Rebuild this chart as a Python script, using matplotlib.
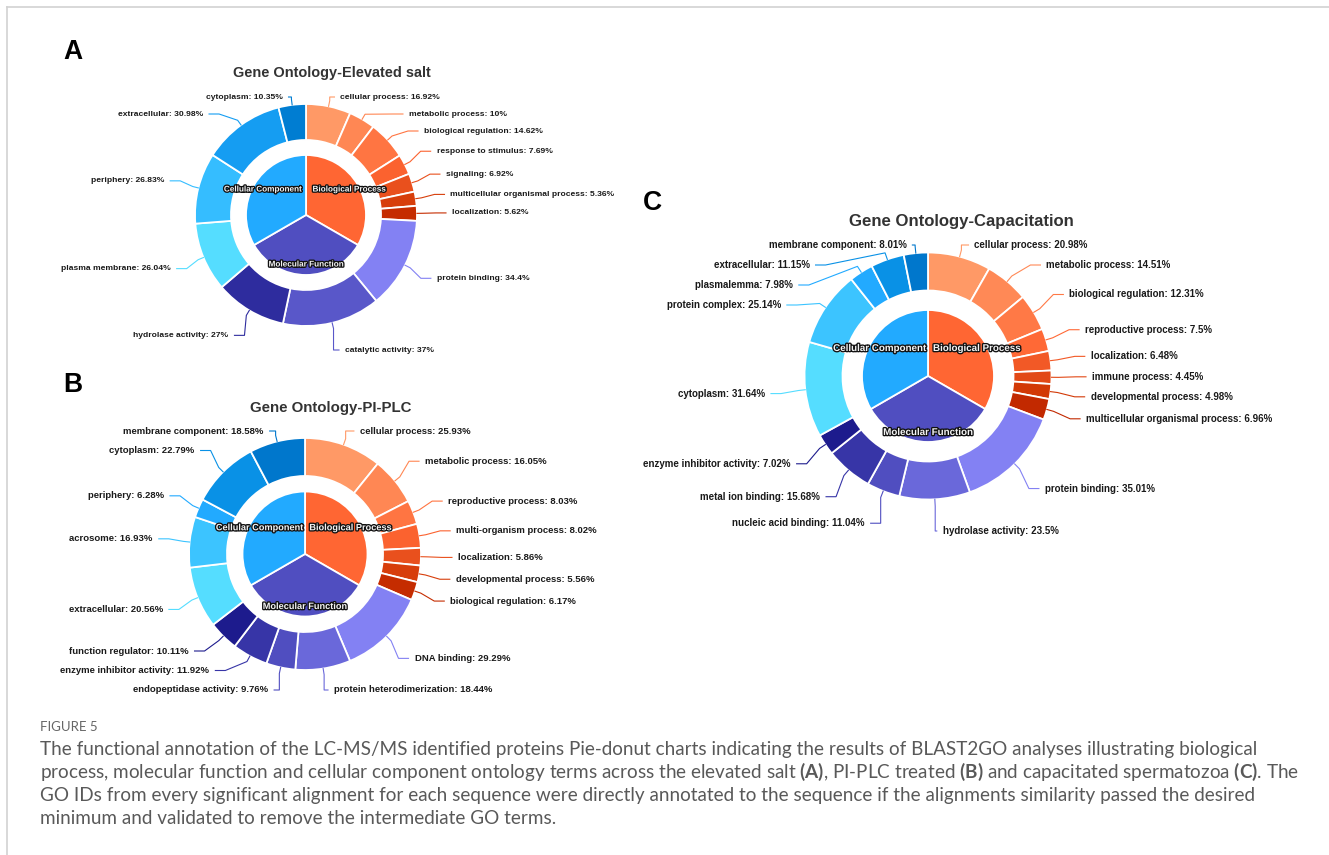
import numpy as np
import matplotlib
matplotlib.use("Agg")
import matplotlib.pyplot as plt
from matplotlib.path import Path
from matplotlib.patches import PathPatch
import matplotlib.patheffects as pe

W, H = 1329, 855
PX = 0.72  # points per pixel at 100 dpi

plt.rcParams["font.family"] = ["Liberation Sans", "DejaVu Sans"]
plt.rcParams["mathtext.fontset"] = "custom"
plt.rcParams["mathtext.bf"] = "Lato:bold"
plt.rcParams["mathtext.rm"] = "Lato"

# ---------------------------------------------------------------- data
group_names = ["Biological Process", "Molecular Function", "Cellular Component"]
group_shares = [100, 100, 100]
group_colors = ["#FF6633", "#504EC0", "#22AAFF"]

# (A) elevated salt
a_bp_terms = ["cellular process", "metabolic process", "biological regulation",
              "response to stimulus", "signaling",
              "multicellular organismal process", "localization"]
a_bp_values = [16.92, 10, 14.62, 7.69, 6.92, 5.36, 5.62]
a_mf_terms = ["protein binding", "catalytic activity", "hydrolase activity"]
a_mf_values = [34.4, 37, 27]
a_cc_terms = ["plasma membrane", "periphery", "extracellular", "cytoplasm"]
a_cc_values = [26.04, 26.83, 30.98, 10.35]

# (B) PI-PLC treated
b_bp_terms = ["cellular process", "metabolic process", "reproductive process",
              "multi-organism process", "localization",
              "developmental process", "biological regulation"]
b_bp_values = [25.93, 16.05, 8.03, 8.02, 5.86, 5.56, 6.17]
b_mf_terms = ["DNA binding", "protein heterodimerization",
              "endopeptidase activity", "enzyme inhibitor activity",
              "function regulator"]
b_mf_values = [29.29, 18.44, 9.76, 11.92, 10.11]
b_cc_terms = ["extracellular", "acrosome", "periphery", "cytoplasm",
              "membrane component"]
b_cc_values = [20.56, 16.93, 6.28, 22.79, 18.58]

# (C) capacitated
c_bp_terms = ["cellular process", "metabolic process", "biological regulation",
              "reproductive process", "localization", "immune process",
              "developmental process", "multicellular organismal process"]
c_bp_values = [20.98, 14.51, 12.31, 7.5, 6.48, 4.45, 4.98, 6.96]
c_mf_terms = ["protein binding", "hydrolase activity", "nucleic acid binding",
              "metal ion binding", "enzyme inhibitor activity"]
c_mf_values = [35.01, 23.5, 11.04, 15.68, 7.02]
c_cc_terms = ["cytoplasm", "protein complex", "plasmalemma", "extracellular",
              "membrane component"]
c_cc_values = [31.64, 25.14, 7.98, 11.15, 8.01]

panel_titles = ["Gene Ontology-Elevated salt", "Gene Ontology-PI-PLC",
                "Gene Ontology-Capacitation"]
panel_letters = ["A", "B", "C"]

caption_head = "FIGURE 5"
caption_lines = [
    "The functional annotation of the LC-MS/MS identified proteins Pie-donut charts "
    "indicating the results of BLAST2GO analyses illustrating biological",
    r"process, molecular function and cellular component ontology terms across the "
    r"elevated salt $\mathbf{(A)}$, PI-PLC treated $\mathbf{(B)}$ and capacitated "
    r"spermatozoa $\mathbf{(C)}$. The",
    "GO IDs from every significant alignment for each sequence were directly "
    "annotated to the sequence if the alignments similarity passed the desired",
    "minimum and validated to remove the intermediate GO terms.",
]

# ---------------------------------------------------------------- layout (px, y down)
layouts = [
    dict(center=(306, 215), R=111, ring=36, pie=60, lr=140, gap=6, step=17,
         top=97, bottom=350, fs=8.5, ifs=8.2, title=(332, 73, 14.5),
         letter=(63, 59)),
    dict(center=(305, 554), R=116, ring=38, pie=62.5, lr=147, gap=6, step=19.5,
         top=431, bottom=690, fs=9.5, ifs=9.2, title=(331, 408, 15.0),
         letter=(63, 392)),
    dict(center=(928, 376), R=123.5, ring=38, pie=66, lr=158, gap=6, step=20,
         top=245, bottom=531, fs=9.8, ifs=9.8, title=(961, 221, 16.8),
         letter=(643, 210)),
]


def shade(hex_color, amount):
    rgb = [int(hex_color[i:i + 2], 16) for i in (1, 3, 5)]
    return tuple(min(max(c + 255 * amount, 0), 255) / 255 for c in rgb)


def group_shades(base, n):
    return [shade(base, 0.2 - 0.5 * j / n) for j in range(n)]


def distribute(targets, h, lo, hi):
    order = np.argsort(targets)
    t = [targets[i] for i in order]
    clusters = []
    for i, ti in enumerate(t):
        clusters.append([i, 1, min(max(ti, lo), hi)])
        while len(clusters) > 1:
            a, b = clusters[-2], clusters[-1]
            if a[2] + a[1] * h > b[2] + 1e-9:
                first, n = a[0], a[1] + b[1]
                start = np.mean([t[first + k] - k * h for k in range(n)])
                start = min(max(start, lo), hi - (n - 1) * h)
                clusters[-2:] = [[first, n, start]]
            else:
                break
    ys = [0.0] * len(t)
    for first, n, start in clusters:
        for k in range(n):
            ys[first + k] = start + k * h
    out = [0.0] * len(t)
    for rank, idx in enumerate(order):
        out[idx] = ys[rank]
    return out


def fmt(v):
    return f"{v:g}"


fig = plt.figure(figsize=(W / 100, H / 100), dpi=100)
ax = fig.add_axes([0, 0, 1, 1])


def draw_panel(lay, groups, title, letter):
    cx, cy = lay["center"]
    Cy = H - cy
    terms, values, colors = [], [], []
    for (t, v), base in zip(groups, group_colors):
        terms += t
        values += v
        colors += group_shades(base, len(v))

    ax.pie(values, radius=lay["R"], center=(cx, Cy), startangle=90,
           counterclock=False, colors=colors, frame=True,
           wedgeprops=dict(width=lay["ring"], edgecolor="white", linewidth=1.3))
    ax.pie(group_shares, radius=lay["pie"], center=(cx, Cy), startangle=90,
           counterclock=False, colors=group_colors, frame=True,
           wedgeprops=dict(edgecolor="white", linewidth=1.3))

    # inner category labels
    rl = lay["pie"] - 10
    cum = np.cumsum([0] + group_shares)
    for k, name in enumerate(group_names):
        phi = np.deg2rad(360 * (cum[k] + group_shares[k] / 2) / cum[-1])
        ax.text(cx + rl * np.sin(phi), Cy + rl * np.cos(phi), name,
                ha="center", va="center", fontsize=lay["ifs"] * PX,
                fontweight="bold", color="#f4f4f4",
                path_effects=[pe.withStroke(linewidth=1.9, foreground="#111111")])

    # outer labels with connectors
    total = sum(values)
    cumv = np.cumsum([0] + values)
    mids = [np.deg2rad(360 * (cumv[i] + values[i] / 2) / total)
            for i in range(len(values))]
    R, lr = lay["R"], lay["lr"]
    off = (lr - R) / 5
    natural = [cy - lr * np.cos(p) for p in mids]
    right = [np.sin(p) >= 0 for p in mids]
    final = [0.0] * len(values)
    for side in (True, False):
        idx = [i for i in range(len(values)) if right[i] == side]
        ys = distribute([natural[i] for i in idx], lay["step"],
                        lay["top"], lay["bottom"])
        for i, y in zip(idx, ys):
            final[i] = y

    for i, phi in enumerate(mids):
        y = final[i]
        at_edge = abs(y - lay["top"]) < 0.5 or abs(y - lay["bottom"]) < 0.5
        yy = natural[i] if at_edge else y
        sgn = 1 if right[i] else -1
        xc = cx + sgn * np.sqrt(max(lr ** 2 - (yy - cy) ** 2, 0))
        tx, ty = cx + R * np.sin(phi), cy - R * np.cos(phi)
        bx, by = cx + (R + off) * np.sin(phi), cy - (R + off) * np.cos(phi)
        crook = xc - sgn * min(10, max(sgn * (xc - bx), 0))
        verts = [(xc, y), (crook, y), (bx, by), (tx, ty)]
        verts = [(vx, H - vy) for vx, vy in verts]
        ax.plot([v[0] for v in verts], [v[1] for v in verts], color=colors[i],
                linewidth=0.8, solid_joinstyle="round")
        ax.text(xc + sgn * lay["gap"], H - y, f"{terms[i]}: {fmt(values[i])}%",
                ha="left" if right[i] else "right", va="center",
                fontsize=lay["fs"] * PX, fontweight="bold", color="#1a1a1a")

    tx_, ty_, tfs = lay["title"]
    ax.text(tx_, H - ty_, title, ha="center", va="center", fontsize=tfs * PX,
            fontweight="bold", color="#333333")
    lx, ly = lay["letter"]
    ax.text(lx, H - ly, letter, ha="left", va="baseline", fontsize=26.5 * PX,
            fontweight="bold", color="#000000")


panels = [
    [(a_bp_terms, a_bp_values), (a_mf_terms, a_mf_values), (a_cc_terms, a_cc_values)],
    [(b_bp_terms, b_bp_values), (b_mf_terms, b_mf_values), (b_cc_terms, b_cc_values)],
    [(c_bp_terms, c_bp_values), (c_mf_terms, c_mf_values), (c_cc_terms, c_cc_values)],
]
for lay, groups, title, letter in zip(layouts, panels, panel_titles, panel_letters):
    draw_panel(lay, groups, title, letter)

# frame rules along the top and left edge
ax.plot([7, W], [H - 7, H - 7], color="#d2d2d2", linewidth=1.2)
ax.plot([7, 7], [0, H - 7], color="#d2d2d2", linewidth=1.2)

# caption
ax.text(40, H - 727, caption_head, ha="left", va="center", fontsize=9.5,
        color="#666666", family="Lato")
for k, line in enumerate(caption_lines):
    ax.text(40, H - (749 + 23.2 * k), line, ha="left", va="center",
            fontsize=13.6, color="#595959", family="Lato")

ax.set_xlim(0, W)
ax.set_ylim(0, H)
ax.set_aspect("equal", adjustable="box")
ax.axis("off")
fig.savefig("out.png", dpi=100, facecolor="white")
